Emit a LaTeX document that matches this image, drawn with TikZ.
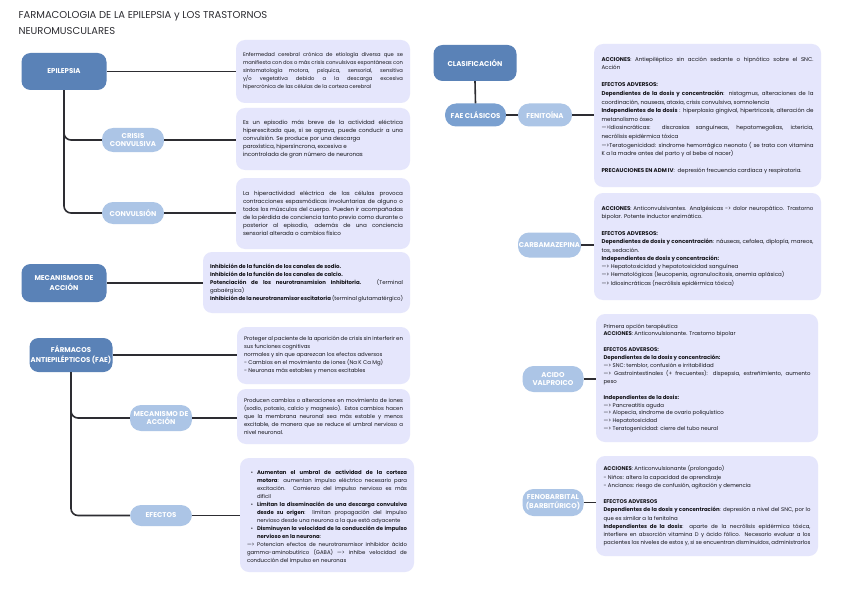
\documentclass[tikz,border=0pt]{standalone}
\usepackage{fontspec}
\setmainfont{Poppins}
\usepackage{tikz}
\usetikzlibrary{calc}
\definecolor{mydark}{RGB}{90,130,183}
\definecolor{mymid}{RGB}{122,160,208}
\definecolor{mylight}{RGB}{172,197,230}
\definecolor{mylav}{RGB}{229,230,252}
\definecolor{myline}{RGB}{45,45,50}
\definecolor{mytext}{RGB}{20,20,25}
\newcommand{\itm}{\par\leftskip=10pt\noindent\llap{\textbullet\hspace{4pt}}}
\newcommand{\arr}{—>}
\hyphenpenalty=10000
\exhyphenpenalty=10000
\emergencystretch=4pt

\begin{document}
\begin{tikzpicture}[x=1pt,y=-1pt,
  mainbox/.style={fill=mydark,rounded corners=9pt,text=white,font=\fontsize{7}{9.5}\selectfont\bfseries,align=center,minimum width=85pt,minimum height=37pt,inner sep=1pt},
  pill/.style={fill=mylight,rounded corners=11pt,text=white,font=\fontsize{7}{8.6}\selectfont\bfseries,align=center,minimum width=62pt,minimum height=24pt,inner sep=1pt},
  descbox/.style={fill=mylav,rounded corners=9pt,text=mytext,font=\fontsize{5.6}{8}\selectfont,align=justify,inner xsep=7pt,inner ysep=2pt},
  rbox/.style={descbox,font=\fontsize{5.5}{8.6}\selectfont,inner xsep=7.5pt},
  link/.style={draw=myline,line width=1.6pt}]
\useasboundingbox[fill=white] (0,0) rectangle (848,599);
% titulo
\node[anchor=north west,align=left,text=myline,font=\fontsize{10}{16.5}\selectfont] (title) at (15,7.5)
  {FARMACOLOGIA DE LA EPILEPSIA y LOS TRASTORNOS\\NEUROMUSCULARES};
% epilepsia
\node[mainbox] (epi) at (64,71.5){EPILEPSIA};
\node[pill,minimum height=24pt] (crisis) at (133,140){CRISIS\\CONVULSIVA};
\node[pill,minimum height=22pt] (conv) at (133,213){CONVULSIÓN};
\node[descbox,font=\fontsize{5.2}{8}\selectfont,text width=160pt,minimum height=63pt] (d1) at (323,71.5){Enfermedad cerebral crónica de etiología diversa que se manifiesta con dos o más crisis convulsivas espontáneas con sintomatología motora, psíquica, sensorial, sensitiva\linebreak y/o vegetativa debido a la descarga excesiva\linebreak hipercrónica de las células de la corteza cerebral};
\node[descbox,text width=160pt,minimum height=62pt] (d2) at (323,139){Es un episodio más breve de la actividad eléctrica hiperexcitada que, si se agrava, puede conducir a una convulsión. Se produce por una descarga\\paroxística, hipersíncrona, excesiva e\\incontrolada de gran número de neuronas};
\node[descbox,text width=160pt,minimum height=71pt] (d3) at (323,213.5){La hiperactividad eléctrica de las células provoca contracciones espasmódicas involuntarias de alguno o todos los músculos del cuerpo. Pueden ir acompañadas de la pérdida de conciencia tanto previo como durante o\linebreak posterior al episodio, además de una conciencia sensorial alterada o cambios físico};
\draw[link] (epi.east) -- (epi.east -| d1.west);
\draw[link,rounded corners=7pt] (epi.south) |- (crisis.west);
\draw[link,rounded corners=7pt] (epi.south) |- (conv.west);
\draw[link] (crisis.east) -- (crisis.east -| d2.west);
\draw[link] (conv.east) -- (conv.east -| d3.west);
% mecanismos
\node[mainbox,minimum height=38pt] (meca) at (64,283){MECANISMOS DE\\ACCIÓN};
\node[descbox,font=\fontsize{5.4}{8}\selectfont,text width=193pt,minimum height=61pt] (d4) at (306.5,282.5){\textbf{Inhibición de la función de los canales de sodio.}\\\textbf{Inhibición de la función de los canales de calcio.}\\\textbf{Potenciación de los neurotransmision Inhibitoria.} (Terminal gabaérgica)\\\textbf{Inhibición de la neurotransmisor escitatoria} (terminal glutamatérgico)};
\draw[link] (meca.east) -- (meca.east -| d4.west);
% farmacos
\node[mainbox,minimum width=83pt,minimum height=34pt] (fae) at (71,355){FÁRMACOS\\ANTIEPILÉPTICOS (FAE)};
\node[pill,minimum height=26pt] (mecfae) at (161,418){MECANISMO DE\\ACCIÓN};
\node[pill,minimum height=21pt] (efec) at (161,515.5){EFECTOS};
\node[descbox,font=\fontsize{5.4}{8}\selectfont,text width=159pt,minimum height=57pt] (d5) at (323.5,355.5){Proteger al paciente de la aparición de crisis sin interferir en sus funciones cognitivas\\normales y sin que aparezcan los efectos adversos\\- Cambios en el movimiento de iones (Na K Ca Mg)\\- Neuronas más estables y menos excitables};
\node[descbox,font=\fontsize{5.4}{8}\selectfont,text width=159pt,minimum height=55pt] (d6) at (323.5,416.5){Producen cambios o alteraciones en movimiento de iones (sodio, potasio, calcio y magnesio). Estos cambios hacen que la membrana neuronal sea más estable y menos excitable, de manera que se reduce el umbral nervioso a nivel neuronal.};
\node[descbox,font=\fontsize{5.35}{8}\selectfont,text width=160pt,minimum height=114pt] (d7) at (327,515){\itm\textbf{Aumentan el umbral de actividad de la corteza\linebreak motora}: aumentan impulso eléctrico necesario para excitación. Comienzo del impulso nervioso es más\linebreak difícil
\itm\textbf{Limitan la diseminación de una descarga convulsiva desde su origen}: limitan propagación del impulso nervioso desde una neurona a la que está adyacente
\itm\textbf{Disminuyen la velocidad de la conducción de impulso nervioso en la neurona}:\par
\leftskip=0pt\noindent\arr{} Potencian efectos de neurotransmisor inhibidor ácido gamma-aminobutírico (GABA) \arr{} inhibe velocidad de conducción del impulso en neuronas};
\draw[link] (fae.east) -- (fae.east -| d5.west);
\draw[link,rounded corners=7pt] (fae.south) |- (mecfae.west);
\draw[link,rounded corners=7pt] (fae.south) |- (efec.west);
\draw[link] (mecfae.east) -- (mecfae.east -| d6.west);
\draw[link] (efec.east) -- (efec.east -| d7.west);
% clasificacion
\node[mainbox,minimum width=83pt,minimum height=36pt] (clas) at (475,63){CLASIFICACIÓN};
\node[pill,fill=mymid,minimum width=61pt,minimum height=23pt] (faecl) at (475.5,115){FAE CLÁSICOS};
\node[pill,minimum width=54pt,minimum height=23pt] (fenit) at (545,115){FENITOÍNA};
\node[pill,minimum width=63pt,minimum height=25pt,inner sep=0pt] (carba) at (549.5,245){CARBAMAZEPINA};
\node[pill,minimum width=61pt,minimum height=26pt] (valp) at (553,379){ACIDO\\VALPROICO};
\node[pill,minimum width=61pt,minimum height=27pt] (fenob) at (553,502.5){FENOBARBITAL\\(BARBITÚRICO)};
\draw[link] (clas.south) -- (faecl.north);
\draw[link] (faecl.east) -- (fenit.west);
% fenitoina
\node[rbox,text width=212pt,minimum height=143pt] (d8) at (707.5,115.5){\textbf{ACCIONES}: Antiepiléptico sin acción sedante o hipnótico sobre el SNC.\linebreak Acción\\[8.6pt]
\textbf{EFECTOS ADVERSOS:}\\
\textbf{Dependientes de la dosis y concentración}: nistagmus, alteraciones de la coordinación, nauseas, ataxia, crisis convulsiva, somnolencia\\
\textbf{Independientes de la dosis} : hiperplasia gingival, hipertricosis, alteración de metanolismo óseo\\
\arr Idiosincráticas: discrasias sanguíneas, hepatomegalias, ictericia,\linebreak necrólisis epidérmica tóxica\\
\arr Teratogenicidad: síndrome hemorrágico neonato ( se trata con vitamina K a la madre antes del parto y al bebe al nacer)\\[8.6pt]
\textbf{PRECAUCIONES EN ADM IV}:~ depresión frecuencia cardiaca y respiratoria.};
\draw[link] (fenit.east) -- (fenit.east -| d8.west);
% carbamazepina
\node[rbox,font=\fontsize{5.5}{8.3}\selectfont,text width=212pt,minimum height=107pt] (d9) at (707.5,246.5){\textbf{ACCIONES}: Anticonvulsivantes. Analgésicas -> dolor neuropático. Trastorno bipolar. Potente inductor enzimático.\\[8.3pt]
\textbf{EFECTOS ADVERSOS:}\\
\textbf{Dependientes de dosis y concentración}: náuseas, cefalea, diplopía, mareos, tos, sedación.\\
\textbf{Independientes de dosis y concentración:}\\
~\arr{} Hepatotoxicidad y hepatotoxicidad sanguínea\\
~\arr{} Hematológicas (leucopenia, agranulocitosis, anemia aplásica)\\
~\arr{} Idiosincráticas (necrólisis epidérmica tóxica)};
\draw[link] (carba.east) -- (carba.east -| d9.west);
% valproico
\node[rbox,font=\fontsize{5.4}{7.9}\selectfont,text width=207pt,minimum height=128pt] (d10) at (707,378){Primera opción terapéutica\\
\textbf{ACCIONES}: Anticonvulsionante. Trastorno bipolar\\[7.9pt]
\textbf{EFECTOS ADVERSOS:}\\
\textbf{Dependientes de la dosis y concentración:}\\
\arr{} SNC: temblor, confusión e irritabilidad\\
\arr{} Gastrointestinales (+ frecuentes): dispepsia, estreñimiento, aumento\linebreak peso\\[7.9pt]
\textbf{Independientes de la dosis:}\\
\arr{} Pancreatitis aguda\\
\arr{} Alopecia, síndrome de ovario poliquístico\\
\arr{} Hepatotoxicidad\\
\arr{} Teratogenicidad: cierre del tubo neural};
\draw[link] (valp.east) -- (valp.east -| d10.west);
% fenobarbital
\node[rbox,font=\fontsize{5.4}{8.2}\selectfont,text width=207pt,minimum height=100pt] (d11) at (707,506){\textbf{ACCIONES}: Anticonvulsionante (prolongado)\\
- Niños: altera la capacidad de aprendizaje\\
- Ancianos: riesgo de confusión, agitación y demencia\\[8.2pt]
\textbf{EFECTOS ADVERSOS}\\
\textbf{Dependientes de la dosis y concentración}: depresión a nivel del SNC, por lo que es similar a la fenitoína\\
\textbf{Independientes de la dosis}: aparte de la necrólisis epidérmica tóxica, interfiere en absorción vitamina D y ácido fólico. Necesario evaluar a los pacientes los niveles de estos y, si se encuentran disminuidos, administrarlos};
\draw[link] (fenob.east) -- (fenob.east -| d11.west);
\end{tikzpicture}
\end{document}
